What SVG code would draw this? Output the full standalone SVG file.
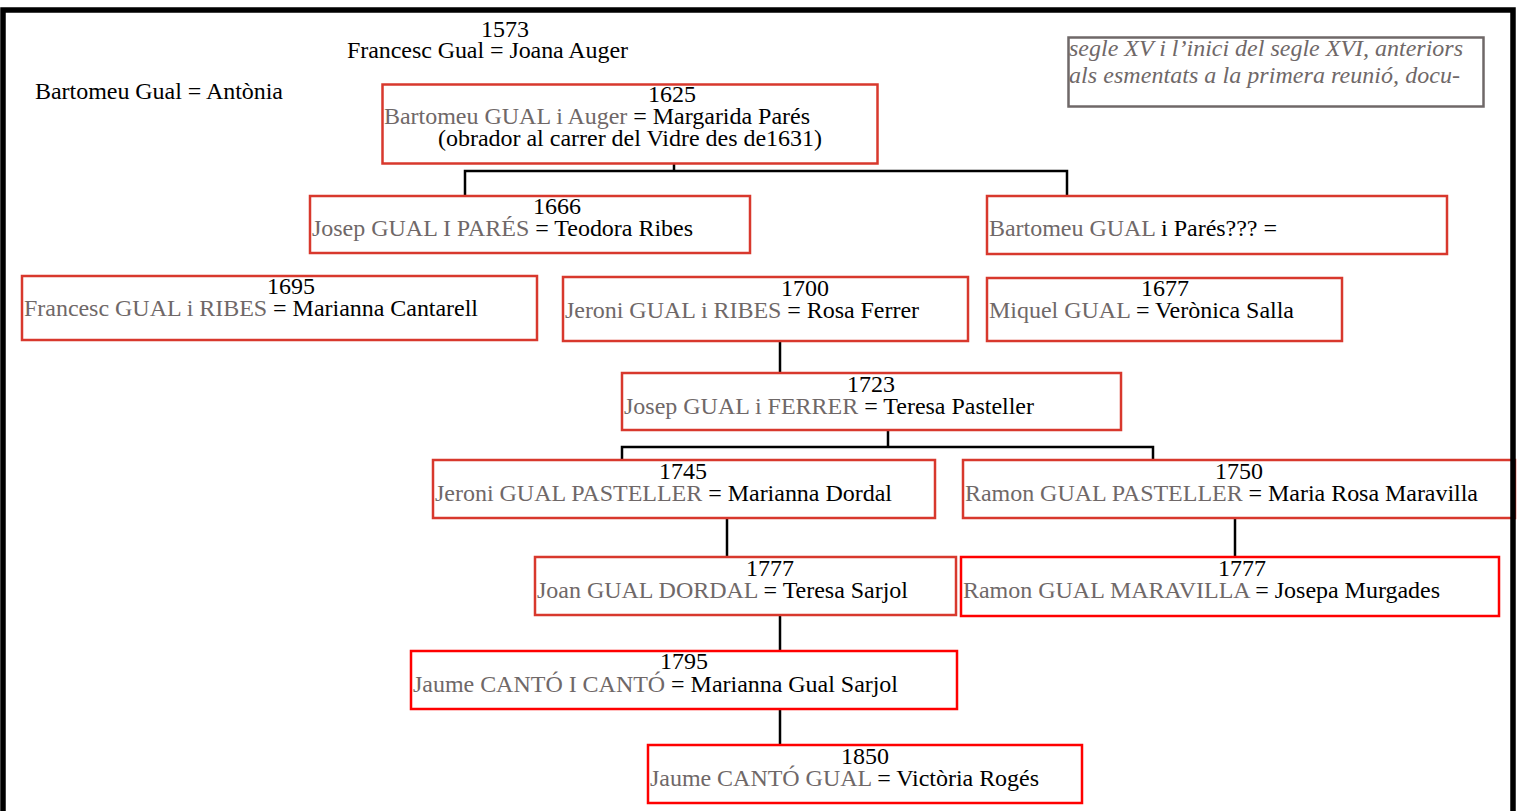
<svg xmlns="http://www.w3.org/2000/svg" width="1520" height="811" viewBox="0 0 1520 811">
<style>
text{font-family:"Liberation Serif","Times New Roman",serif;font-size:24px;fill:#000}
.g{fill:#6f6868}
.yr{text-anchor:middle}
.box{fill:#fff;stroke:#d8382d;stroke-width:2.5}
.box2{fill:#fff;stroke:#ff0000;stroke-width:2.5}
.con{fill:none;stroke:#000;stroke-width:2.5}
.note{font-style:italic;fill:#6f6868}
</style>
<rect x="0" y="0" width="1520" height="811" fill="#fff"/>

<g id="connectors">
<polyline class="con" points="674,163 674,171"/>
<polyline class="con" points="465,196 465,171 1067,171 1067,196"/>
<polyline class="con" points="780,341 780,373"/>
<polyline class="con" points="888,430 888,447"/>
<polyline class="con" points="622,460 622,447 1153,447 1153,460"/>
<polyline class="con" points="727,518 727,557"/>
<polyline class="con" points="1235,518 1235,557"/>
<polyline class="con" points="780,615 780,651"/>
<polyline class="con" points="780,709 780,745"/>
</g>

<g id="n1573">
<text class="yr" x="505" y="37">1573</text>
<text x="347" y="58" textLength="281">Francesc Gual = Joana Auger</text>
</g>

<g id="nBartomeuAntonia">
<text x="35" y="99" textLength="248">Bartomeu Gual = Antònia</text>
</g>

<g id="note">
<rect x="1068.5" y="37.5" width="415" height="69" fill="#fff" stroke="#6f6868" stroke-width="2.5"/>
<text class="note" x="1069" y="56" textLength="394">segle XV i l’inici del segle XVI, anteriors</text>
<text class="note" x="1069" y="83" textLength="391">als esmentats a la primera reunió, docu-</text>
</g>

<g id="n1625">
<rect class="box" x="382.5" y="84.5" width="495" height="79"/>
<text class="yr" x="672" y="102">1625</text>
<text x="384" y="124" textLength="426"><tspan class="g">Bartomeu GUAL i Auger</tspan> = Margarida Parés</text>
<text x="438" y="146" textLength="384">(obrador al carrer del Vidre des de1631)</text>
</g>

<g id="n1666">
<rect class="box" x="310" y="196" width="440" height="57"/>
<text class="yr" x="557" y="214">1666</text>
<text x="312" y="236" textLength="381"><tspan class="g">Josep GUAL I PARÉS</tspan> = Teodora Ribes</text>
</g>

<g id="nBartomeuPares">
<rect class="box" x="987" y="196" width="460" height="58"/>
<text x="989" y="236" textLength="288"><tspan class="g">Bartomeu GUAL</tspan> i Parés??? =</text>
</g>

<g id="n1695">
<rect class="box" x="22" y="276" width="515" height="64"/>
<text class="yr" x="291" y="294">1695</text>
<text x="24" y="316" textLength="454"><tspan class="g">Francesc GUAL i RIBES</tspan> = Marianna Cantarell</text>
</g>

<g id="n1700">
<rect class="box" x="563" y="277" width="405" height="64"/>
<text class="yr" x="805" y="296">1700</text>
<text x="565" y="318" textLength="354"><tspan class="g">Jeroni GUAL i RIBES</tspan> = Rosa Ferrer</text>
</g>

<g id="n1677">
<rect class="box" x="987" y="278" width="355" height="63"/>
<text class="yr" x="1165" y="296">1677</text>
<text x="989" y="318" textLength="305"><tspan class="g">Miquel GUAL</tspan> = Verònica Salla</text>
</g>

<g id="n1723">
<rect class="box" x="622" y="373" width="499" height="57"/>
<text class="yr" x="871" y="392">1723</text>
<text x="624" y="414" textLength="410"><tspan class="g">Josep GUAL i FERRER</tspan> = Teresa Pasteller</text>
</g>

<g id="n1745">
<rect class="box" x="433" y="460" width="502" height="58"/>
<text class="yr" x="683" y="479">1745</text>
<text x="435" y="501" textLength="457"><tspan class="g">Jeroni GUAL PASTELLER</tspan> = Marianna Dordal</text>
</g>

<g id="n1750">
<rect class="box" x="963" y="460" width="552" height="58"/>
<text class="yr" x="1239" y="479">1750</text>
<text x="965" y="501" textLength="513"><tspan class="g">Ramon GUAL PASTELLER</tspan> = Maria Rosa Maravilla</text>
</g>

<g id="n1777a">
<rect class="box" x="535" y="557" width="421" height="58"/>
<text class="yr" x="770" y="576">1777</text>
<text x="537" y="598" textLength="371"><tspan class="g">Joan GUAL DORDAL</tspan> = Teresa Sarjol</text>
</g>

<g id="n1777b">
<rect class="box2" x="961" y="557" width="538" height="59"/>
<text class="yr" x="1242" y="576">1777</text>
<text x="963" y="598" textLength="477"><tspan class="g">Ramon GUAL MARAVILLA</tspan> = Josepa Murgades</text>
</g>

<g id="n1795">
<rect class="box2" x="411" y="651" width="546" height="58"/>
<text class="yr" x="684" y="669">1795</text>
<text x="413" y="692" textLength="485"><tspan class="g">Jaume CANTÓ I CANTÓ</tspan> = Marianna Gual Sarjol</text>
</g>

<g id="n1850">
<rect class="box2" x="648" y="745" width="434" height="58"/>
<text class="yr" x="865" y="764">1850</text>
<text x="650" y="786" textLength="389"><tspan class="g">Jaume CANTÓ GUAL</tspan> = Victòria Rogés</text>
</g>

<rect id="frame" x="3" y="10" width="1510" height="830" fill="none" stroke="#000" stroke-width="5.5"/>
</svg>
